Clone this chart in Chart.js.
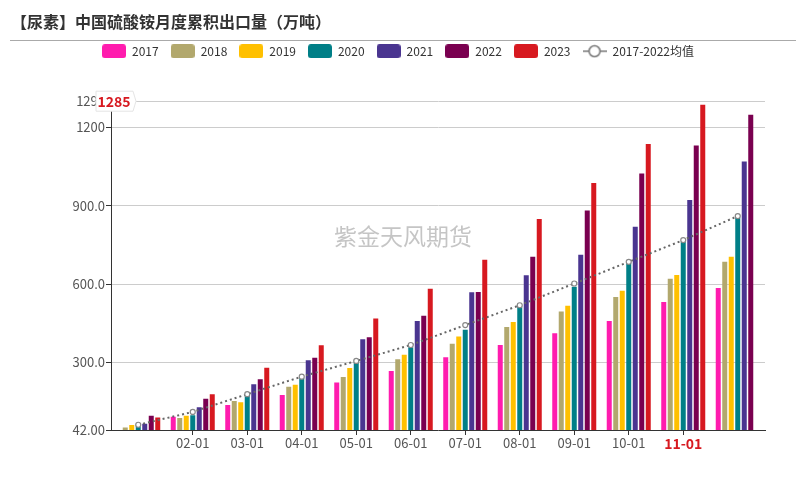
<!DOCTYPE html>
<html>
<head>
<meta charset="utf-8">
<style>
  html, body { margin: 0; padding: 0; background: #fff; }
  canvas { display: block; }
</style>
<script src="https://cdn.jsdelivr.net/npm/chart.js@4"></script>
</head>
<body>
<canvas id="chart" width="806" height="490"></canvas>
<script>
// data
const months = ["01-01", "02-01", "03-01", "04-01", "05-01", "06-01", "07-01", "08-01", "09-01", "10-01", "11-01", "12-01"];
const y2017 = [42, 93, 138, 176, 224, 268, 320, 367, 412, 459, 531, 585];
const y2018 = [52, 88, 153, 207, 245, 312, 372, 436, 495, 550, 620, 685];
const y2019 = [61, 96, 148, 215, 279, 330, 399, 455, 517, 574, 635, 704];
const y2020 = [62, 98, 176, 242, 303, 358, 425, 514, 590, 682, 763, 854];
const y2021 = [66, 129, 217, 309, 389, 459, 569, 634, 712, 819, 921, 1068];
const y2022 = [96, 161, 236, 318, 397, 479, 570, 704, 881, 1023, 1130, 1247];
const y2023 = [90, 179, 280, 366, 468, 582, 693, 849, 986, 1135, 1285, null];
const meanValues = [62, 111, 179, 246, 306, 367, 443, 519, 602, 685, 768, 860];
const yTicks = [42, 300, 600, 900, 1200, 1299];
const yTickLabels = ["42.00", "300.0", "600.0", "900.0", "1200", "1299"];
const hiddenMonths = ["01-01", "12-01"];
const activeMonth = "11-01";
const activeValue = "1285";

const FONT = "'Noto Sans CJK SC', 'Noto Sans', sans-serif";

function barSeries(label, data, color) {
  return { label, data, backgroundColor: color, categoryPercentage: 0.835, barPercentage: 0.77 };
}

// legend swatches
function swatch(color) {
  const c = document.createElement("canvas");
  c.width = 24; c.height = 14;
  const g = c.getContext("2d");
  g.fillStyle = color;
  g.beginPath();
  g.roundRect(0, 0, 24, 14, 3);
  g.fill();
  return c;
}

function lineSwatch() {
  const c = document.createElement("canvas");
  c.width = 24; c.height = 14;
  const g = c.getContext("2d");
  g.strokeStyle = "#777";
  g.lineWidth = 1.5;
  g.beginPath();
  g.moveTo(0, 7); g.lineTo(24, 7);
  g.stroke();
  g.fillStyle = "#fff";
  g.beginPath();
  g.arc(12, 7, 5.5, 0, Math.PI * 2);
  g.fill();
  g.stroke();
  return c;
}

const decorations = {
  id: "decorations",
  beforeInit(chart) {
    // extra room between legend and plot
    const fit = chart.legend.fit;
    chart.legend.fit = function () {
      fit.call(this);
      this.height += 34;
    };
  },
  afterLayout(chart) {
    // legend is centred on the page, not on the padded area
    chart.legend.right += 20;
  },
  beforeDraw(chart) {
    const ctx = chart.ctx;
    ctx.save();
    ctx.strokeStyle = "#aaa";
    ctx.lineWidth = 1;
    ctx.beginPath();
    ctx.moveTo(10, 40.5);
    ctx.lineTo(796, 40.5);
    ctx.stroke();
    ctx.restore();
  },
  afterDraw(chart) {
    const ctx = chart.ctx;
    const area = chart.chartArea;
    ctx.save();
    // watermark
    ctx.font = "23px " + FONT;
    ctx.fillStyle = "rgba(140,140,140,0.5)";
    ctx.textAlign = "center";
    ctx.textBaseline = "middle";
    ctx.fillText("紫金天风期货", 403, 236);

    // axis pointer tag
    const y = area.top;
    const l = area.left - 15;
    ctx.beginPath();
    ctx.moveTo(l, y - 10);
    ctx.lineTo(l + 37, y - 10);
    ctx.lineTo(l + 40, y);
    ctx.lineTo(l + 37, y + 10);
    ctx.lineTo(l, y + 10);
    ctx.closePath();
    ctx.fillStyle = "#fff";
    ctx.fill();
    ctx.strokeStyle = "#e4e4e4";
    ctx.stroke();
    ctx.font = "bold 14px " + FONT;
    ctx.fillStyle = "#d71920";
    ctx.fillText(activeValue, l + 18, y);
    ctx.restore();
  }
};

new Chart(document.getElementById("chart"), {
  data: {
    labels: months,
    datasets: [
      barSeries("2017", y2017, "#ff1cae"),
      barSeries("2018", y2018, "#b2a86d"),
      barSeries("2019", y2019, "#ffc000"),
      barSeries("2020", y2020, "#007f87"),
      barSeries("2021", y2021, "#4a3590"),
      barSeries("2022", y2022, "#7a0050"),
      barSeries("2023", y2023, "#d71920"),
      {
        label: "2017-2022均值",
        data: meanValues,
        type: "line",
        order: -1,
        borderColor: "#666",
        borderWidth: 2,
        borderDash: [2, 3],
        tension: 0,
        pointRadius: 2.5,
        pointBackgroundColor: "#fff",
        pointBorderColor: "#888",
        pointBorderWidth: 1.2
      }
    ].map((d) => ({ type: "bar", ...d }))
  },
  options: {
    responsive: false,
    animation: false,
    devicePixelRatio: 1,
    layout: { padding: { left: 11, right: 41, bottom: 0 } },
    plugins: {
      tooltip: { enabled: false },
      title: {
        display: true,
        text: "【尿素】中国硫酸铵月度累积出口量（万吨）",
        align: "start",
        color: "#333",
        font: { family: FONT, size: 16, weight: "bold" },
        padding: { top: 12, bottom: 2 }
      },
      legend: {
        position: "top",
        labels: {
          usePointStyle: true,
          pointStyleWidth: 24,
          padding: 12,
          color: "#333",
          font: { family: FONT, size: 12 },
          sort: (a, b) => a.datasetIndex - b.datasetIndex,
          generateLabels(chart) {
            return Chart.defaults.plugins.legend.labels.generateLabels(chart).map((item) => {
              const ds = chart.data.datasets[item.datasetIndex];
              item.pointStyle = ds.type === "line" ? lineSwatch() : swatch(ds.backgroundColor);
              return item;
            });
          }
        }
      }
    },
    scales: {
      x: {
        afterFit(scale) { scale.height = 60; },
        border: { color: "#333", width: 1 },
        grid: {
          offset: false,
          drawOnChartArea: false,
          tickLength: 5,
          tickColor: (c) => hiddenMonths.includes(months[c.index]) ? "transparent" : "#333"
        },
        ticks: {
          autoSkip: false,
          maxRotation: 0,
          padding: 0,
          callback(value, index) {
            return hiddenMonths.includes(months[index]) ? "" : months[index];
          },
          color: (c) => months[c.index] === activeMonth ? "#d71920" : "#555",
          font: (c) => months[c.index] === activeMonth
            ? { family: FONT, size: 14, weight: "bold" }
            : { family: FONT, size: 13 }
        }
      },
      y: {
        min: yTicks[0],
        max: yTicks[yTicks.length - 1],
        afterFit(scale) { scale.width = 100; },
        afterBuildTicks(scale) { scale.ticks = yTicks.map((value) => ({ value })); },
        border: { color: "#333", width: 1 },
        grid: {
          color: (c) => c.tick.value === yTicks[0] ? "transparent" : "#ccc",
          tickColor: "#333",
          tickLength: 5
        },
        ticks: {
          padding: 1,
          color: "#555",
          font: { family: FONT, size: 13 },
          callback(value) { return yTickLabels[yTicks.indexOf(value)]; }
        }
      }
    }
  },
  plugins: [decorations]
});
</script>
</body>
</html>
